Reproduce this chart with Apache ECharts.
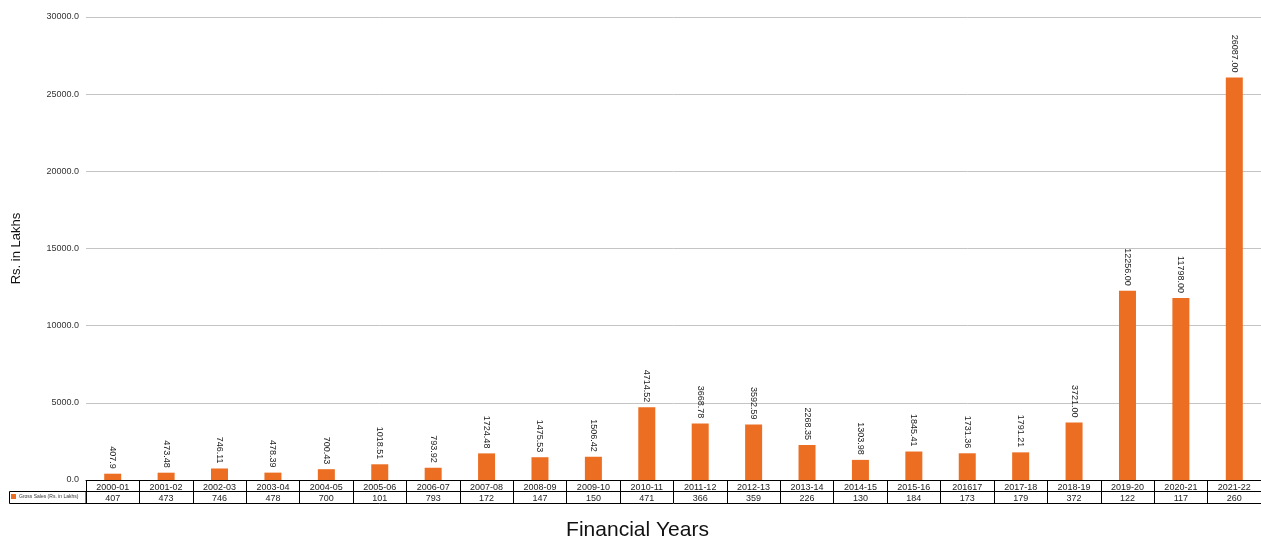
<!DOCTYPE html>
<html>
<head>
<meta charset="utf-8">
<script src="https://cdn.jsdelivr.net/npm/echarts@6/dist/echarts.min.js"></script>
<style>
html,body{margin:0;padding:0;background:#fff;}
#chart{width:1261px;height:541px;}
</style>
</head>
<body>
<div id="chart"></div>
<script>
const categories = ['2000-01','2001-02','2002-03','2003-04','2004-05','2005-06','2006-07','2007-08','2008-09','2009-10','2010-11','2011-12','2012-13','2013-14','2014-15','2015-16','201617','2017-18','2018-19','2019-20','2020-21','2021-22'];
const grossSales = [407.9, 473.48, 746.11, 478.39, 700.43, 1018.51, 793.92, 1724.48, 1475.53, 1506.42, 4714.52, 3668.78, 3592.59, 2268.35, 1303.98, 1845.41, 1731.36, 1791.21, 3721.00, 12256.00, 11798.00, 26087.00];
const dataLabels = ['407.9','473.48','746.11','478.39','700.43','1018.51','793.92','1724.48','1475.53','1506.42','4714.52','3668.78','3592.59','2268.35','1303.98','1845.41','1731.36','1791.21','3721.00','12256.00','11798.00','26087.00'];
const tableValues = ['407','473','746','478','700','101','793','172','147','150','471','366','359','226','130','184','173','179','372','122','117','260'];
const seriesName = 'Gross Sales (Rs. in Lakhs)';

const FONT = 'Liberation Sans, Arial, sans-serif';
const chart = echarts.init(document.getElementById('chart'), null, {renderer: 'canvas'});
chart.setOption({
  animation: false,
  backgroundColor: '#fff',
  textStyle: {fontFamily: FONT},
  grid: {left: 86, right: 0, top: 17, bottom: 61, containLabel: false, outerBoundsMode: 'none'},
  legend: {
    show: true,
    left: 11, top: 494,
    itemWidth: 5, itemHeight: 5, itemGap: 2,
    icon: 'rect',
    padding: 0,
    textStyle: {fontSize: 5, color: '#333', fontFamily: FONT, padding: [0,0,0,-2]},
    data: [seriesName]
  },
  graphic: [{
    type: 'rect',
    shape: {x: 9.5, y: 491.5, width: 76.5, height: 12},
    style: {fill: 'none', stroke: '#000', lineWidth: 1}
  }],
  xAxis: [{
    type: 'category',
    data: categories,
    position: 'bottom',
    axisLine: {show: true, lineStyle: {color: '#000', width: 1}},
    axisTick: {show: true, interval: 0, length: 23, lineStyle: {color: '#000', width: 1}},
    axisLabel: {interval: 0, margin: 3, fontSize: 9, color: '#222', fontFamily: FONT},
    splitLine: {show: false}
  }, {
    type: 'category',
    data: categories,
    position: 'bottom',
    offset: 11,
    axisLine: {show: true, lineStyle: {color: '#000', width: 1}},
    axisTick: {show: false},
    axisLabel: {interval: 0, margin: 3, fontSize: 9, color: '#222', fontFamily: FONT,
      formatter: (v, i) => tableValues[i]},
    splitLine: {show: false}
  }, {
    type: 'category',
    data: categories,
    position: 'bottom',
    offset: 23,
    axisLine: {show: true, lineStyle: {color: '#000', width: 1}},
    axisTick: {show: false},
    axisLabel: {show: false},
    name: 'Financial Years',
    nameLocation: 'middle',
    nameGap: 17,
    nameTextStyle: {fontSize: 21, color: '#111', fontFamily: FONT, padding: [0, 72, 0, 0]}
  }],
  yAxis: {
    type: 'value',
    min: 0, max: 30000, interval: 5000,
    name: 'Rs. in Lakhs',
    nameLocation: 'middle',
    nameGap: 63,
    nameTextStyle: {fontSize: 13, color: '#111', fontFamily: FONT},
    axisLine: {show: false},
    axisTick: {show: false},
    axisLabel: {fontSize: 9, color: '#333', margin: 7, fontFamily: FONT,
      formatter: v => v.toFixed(1)},
    splitLine: {show: true, lineStyle: {color: '#c4c4c4', width: 1}}
  },
  series: [{
    name: seriesName,
    type: 'bar',
    xAxisIndex: 0,
    data: grossSales,
    barWidth: 17,
    itemStyle: {color: '#ec6e22'},
    label: {
      show: true,
      position: 'top',
      distance: 5,
      rotate: -90,
      align: 'right',
      verticalAlign: 'middle',
      fontSize: 9,
      color: '#222',
      fontFamily: FONT,
      formatter: p => dataLabels[p.dataIndex]
    }
  }]
});
</script>
</body>
</html>
